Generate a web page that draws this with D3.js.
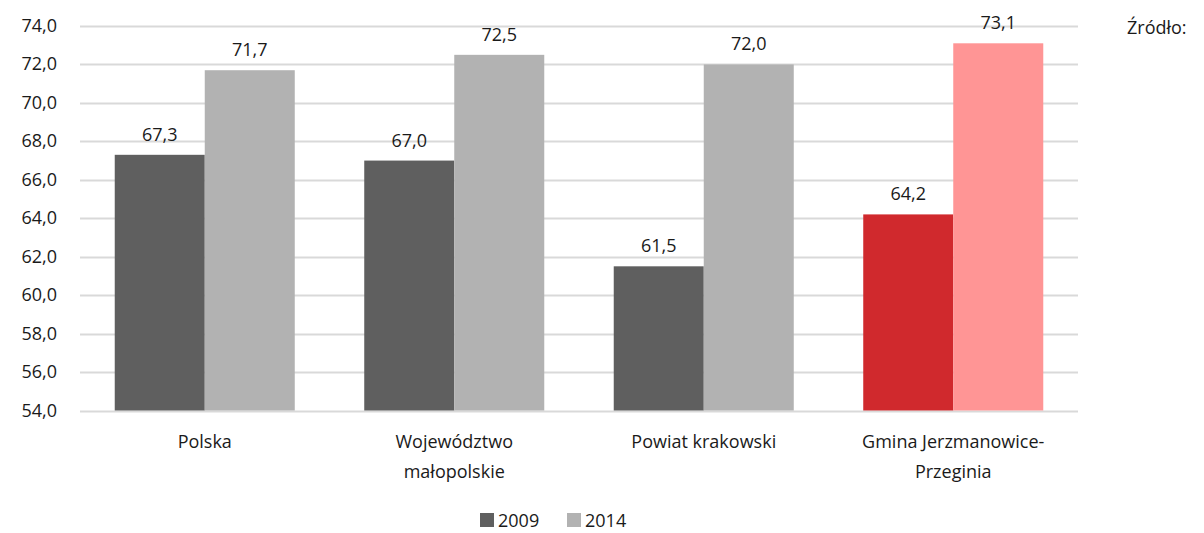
<!DOCTYPE html>
<html>
<head>
<meta charset="utf-8">
<script src="https://cdn.jsdelivr.net/npm/d3@7"></script>
<style>
  body { margin: 0; background: #fff; }
  text { font-family: "Open Sans", sans-serif; fill: #1a1a1a; }
</style>
</head>
<body>
<div id="chart"></div>
<script>
// data
let categories = [["Polska"], ["Województwo", "małopolskie"], ["Powiat krakowski"], ["Gmina Jerzmanowice-", "Przeginia"]];
let keys = ["Polska", "Województwo małopolskie", "Powiat krakowski", "Gmina Jerzmanowice-Przeginia"];
let series = ["2009", "2014"];
let values2009 = [67.3, 67.0, 61.5, 64.2];
let values2014 = [71.7, 72.5, 72.0, 73.1];
let yTicks = [54, 56, 58, 60, 62, 64, 66, 68, 70, 72, 74];

let colors = {"2009": "#5f5f5f", "2014": "#b2b2b2"};
let highlight = {"2009": "#d0292d", "2014": "#ff9595"};

let width = 1204, height = 533;
let margin = {top: 26, right: 126, bottom: 123, left: 80};

let svg = d3.select("#chart").append("svg")
    .attr("width", width)
    .attr("height", height);

let x = d3.scaleBand()
    .domain(keys)
    .range([margin.left, width - margin.right])
    .paddingInner(0)
    .paddingOuter(0);

let x1 = d3.scaleBand()
    .domain(series)
    .range([0, x.bandwidth()])
    .paddingOuter(0.386);

let y = d3.scaleLinear()
    .domain([54, 74])
    .range([height - margin.bottom + 0.5, margin.top]);

// grid lines
svg.append("g")
  .selectAll("line")
  .data(yTicks)
  .enter().append("line")
    .attr("x1", margin.left)
    .attr("x2", width - margin.right)
    .attr("y1", d => Math.round(y(d)) + 0.5)
    .attr("y2", d => Math.round(y(d)) + 0.5)
    .attr("stroke", "#d9d9d9")
    .attr("stroke-width", 2);

// y axis labels
let fmt = d => d3.format(".1f")(d).replace(".", ",");
svg.append("g")
  .selectAll("text")
  .data(yTicks)
  .enter().append("text")
    .attr("x", 57)
    .attr("y", d => y(d) + 6)
    .attr("text-anchor", "end")
    .attr("font-size", 18)
    .text(fmt);

let rows = keys.map((k, i) => ({key: k, idx: i, vals: [
  {s: "2009", v: values2009[i]},
  {s: "2014", v: values2014[i]}
]}));

let groups = svg.selectAll(".grp")
  .data(rows)
  .enter().append("g")
    .attr("class", "grp")
    .attr("transform", d => "translate(" + x(d.key) + ",0)");

groups.selectAll("rect")
  .data(d => d.vals.map(v => Object.assign({idx: d.idx}, v)))
  .enter().append("rect")
    .attr("x", d => x1(d.s))
    .attr("width", x1.bandwidth())
    .attr("y", d => y(d.v))
    .attr("height", d => y(54) - y(d.v))
    .attr("fill", d => d.idx === 3 ? highlight[d.s] : colors[d.s]);

groups.selectAll(".lbl")
  .data(d => d.vals)
  .enter().append("text")
    .attr("class", "lbl")
    .attr("x", d => x1(d.s) + x1.bandwidth() / 2)
    .attr("y", d => y(d.v) - 14)
    .attr("text-anchor", "middle")
    .attr("font-size", 18)
    .text(d => fmt(d.v));

// category labels
svg.append("g")
  .selectAll("text")
  .data(keys)
  .enter().append("text")
    .attr("x", d => x(d) + x.bandwidth() / 2)
    .attr("y", 448)
    .attr("text-anchor", "middle")
    .attr("font-size", 18)
    .each(function(d, i) {
      d3.select(this).selectAll("tspan")
        .data(categories[i])
        .enter().append("tspan")
          .attr("x", x(d) + x.bandwidth() / 2)
          .attr("dy", (t, j) => j === 0 ? 0 : 30)
          .text(t => t);
    });

// legend
let legend = svg.append("g").attr("transform", "translate(480,513)");
series.forEach((s, i) => {
  let g = legend.append("g").attr("transform", "translate(" + (i * 87) + ",0)");
  g.append("rect").attr("width", 14).attr("height", 14).attr("fill", colors[s]);
  g.append("text").attr("x", 18).attr("y", 14).attr("font-size", 18).text(s);
});

// source note
svg.append("text")
  .attr("x", 1127)
  .attr("y", 34)
  .attr("font-size", 18)
  .text("Źródło:");
</script>
</body>
</html>
